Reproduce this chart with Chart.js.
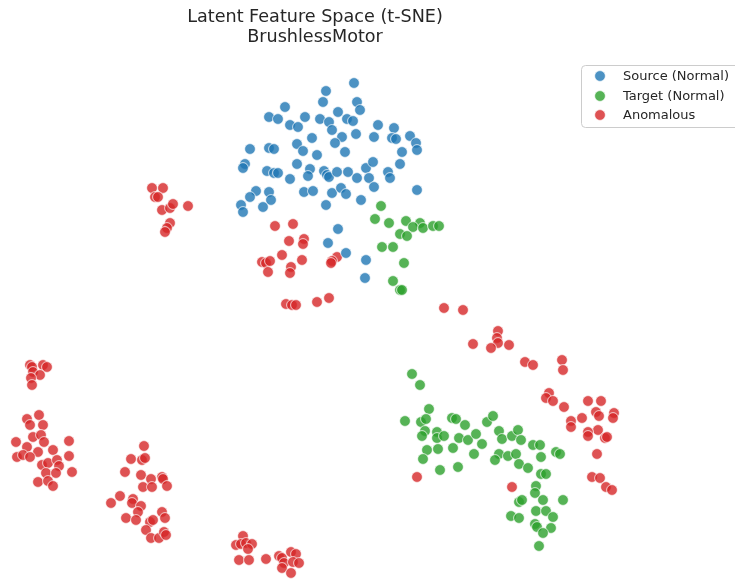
<!DOCTYPE html>
<html>
<head>
<meta charset="utf-8">
<title>Latent Feature Space (t-SNE) – BrushlessMotor</title>
<script src="https://cdn.jsdelivr.net/npm/chart.js@4/dist/chart.umd.min.js"></script>
<style>
  html, body { margin: 0; padding: 0; background: #ffffff; }
  #wrap { width: 735px; height: 580px; }
</style>
</head>
<body>
<div id="wrap"><canvas id="chart" width="735" height="580"></canvas></div>
<script>
// Embedding coordinates (x, y) per group; y grows downward on this plot.
const sourceNormal = [
  [354,83],[326,91],[323,102],[357,102],[360,110],[285,107],[269,117],[278,119],[305,117],[338,112],
  [320,119],[329,122],[347,119],[353,121],[290,125],[298,127],[332,130],[378,125],[356,134],[394,128],
  [374,137],[392,138],[396,139],[410,136],[416,143],[342,137],[335,143],[312,138],[297,144],[250,149],
  [269,148],[274,149],[303,151],[345,152],[402,152],[417,150],[317,155],[245,164],[243,168],[267,171],
  [274,173],[278,173],[297,164],[310,169],[308,176],[290,179],[324,171],[327,175],[329,177],[337,172],
  [348,172],[357,178],[366,168],[373,162],[369,178],[388,172],[390,178],[400,164],[374,187],[417,190],
  [256,191],[250,197],[269,192],[271,200],[241,205],[243,212],[263,207],[304,192],[313,191],[332,193],
  [341,188],[346,194],[326,205],[361,200],[338,229],[328,243],[346,253],[366,260],[365,278]
];

const targetNormal = [
  [381,206],[375,219],[389,223],[406,221],[420,223],[413,227],[423,228],[433,226],[439,226],[400,234],
  [407,236],[382,247],[393,247],[404,263],[393,281],[400,290],[402,290],
  [412,374],[420,385],[405,421],[429,409],[421,422],[426,419],[425,431],[422,436],[437,432],[437,438],
  [444,436],[452,418],[456,419],[465,425],[459,438],[468,440],[476,434],[482,444],[487,422],[493,416],
  [499,431],[502,439],[512,436],[518,430],[521,440],[427,450],[438,449],[453,448],[474,454],[423,459],
  [499,454],[508,456],[516,454],[495,460],[533,445],[540,445],[541,457],[556,452],[560,454],[519,464],
  [528,468],[458,467],[440,470],[541,474],[546,474],[536,486],[535,493],[563,500],[519,502],[522,500],
  [543,500],[536,511],[546,511],[553,517],[511,516],[519,518],[535,524],[537,527],[551,528],[543,533],
  [539,546]
];

const anomalous = [
  [152,188],[163,188],[155,197],[158,197],[162,210],[170,208],[173,204],[188,206],[170,223],[167,228],
  [165,232],
  [275,226],[293,224],[289,241],[304,239],[303,244],[282,255],[302,260],[262,262],[266,263],[270,261],
  [291,267],[290,273],[268,272],[337,257],[332,261],[331,263],[286,304],[292,305],[296,305],[317,302],
  [329,298],
  [444,308],[463,310],[498,331],[497,338],[498,343],[491,348],[509,345],[473,344],[525,362],[533,365],
  [562,360],[563,370],[549,393],[546,398],[553,401],[564,407],
  [588,401],[601,401],[582,418],[571,421],[571,427],[596,412],[599,416],[614,413],[613,418],[598,430],
  [588,432],[588,436],[605,438],[607,437],[597,454],[592,477],[600,478],[606,487],[612,490],
  [417,477],[512,487],
  [30,365],[32,367],[43,365],[47,367],[33,372],[40,375],[31,378],[32,385],
  [27,419],[39,415],[30,425],[43,425],[33,437],[41,435],[44,442],[16,442],[27,447],[38,452],
  [53,450],[69,441],[17,457],[23,455],[30,457],[42,465],[48,463],[57,460],[59,466],[69,456],
  [46,473],[56,473],[72,472],[38,482],[48,481],[53,486],
  [144,446],[131,459],[142,460],[145,458],[125,472],[141,475],[151,479],[162,477],[163,479],[143,487],
  [152,487],[167,486],[120,496],[111,503],[133,499],[132,503],[141,506],[138,512],[126,518],[136,520],
  [150,522],[153,520],[162,512],[165,518],[146,530],[151,538],[159,538],[164,532],[166,535],
  [243,536],[236,545],[241,544],[246,543],[252,544],[248,549],[239,560],[249,560],[266,559],[279,556],
  [282,558],[291,552],[296,554],[284,563],[293,562],[299,563],[282,568],[291,573]
];

const seriesLabels = ['Source (Normal)', 'Target (Normal)', 'Anomalous'];
const titleLines = ['Latent Feature Space (t-SNE)', 'BrushlessMotor'];

const palette = ['rgba(31,119,180,0.8)', 'rgba(44,160,44,0.8)', 'rgba(214,39,40,0.8)'];
const FONT = '"DejaVu Sans", "Liberation Sans", sans-serif';
const MARKER_R = 5.4;

const toPoints = arr => arr.map(([x, y]) => ({ x, y }));

function makeSet(label, arr, color) {
  return {
    label,
    data: toPoints(arr),
    backgroundColor: color,
    borderColor: 'rgba(255,255,255,0.9)',
    borderWidth: 0.8,
    pointRadius: MARKER_R,
    pointHoverRadius: MARKER_R,
    clip: false
  };
}

// Title and legend are painted on the canvas, the legend box running off the right edge.
const decorations = {
  id: 'decorations',
  afterDraw(chart) {
    const ctx = chart.ctx;
    ctx.save();
    ctx.fillStyle = '#262626';
    ctx.textAlign = 'center';
    ctx.textBaseline = 'middle';
    ctx.font = '17.6px ' + FONT;
    ctx.fillText(titleLines[0], 315, 17);
    ctx.fillText(titleLines[1], 315, 37);

    // legend frame
    const bx = 581.5, by = 65.5, bw = 170, bh = 62, r = 4;
    ctx.beginPath();
    ctx.moveTo(bx + r, by);
    ctx.lineTo(bx + bw - r, by);
    ctx.arcTo(bx + bw, by, bx + bw, by + r, r);
    ctx.lineTo(bx + bw, by + bh - r);
    ctx.arcTo(bx + bw, by + bh, bx + bw - r, by + bh, r);
    ctx.lineTo(bx + r, by + bh);
    ctx.arcTo(bx, by + bh, bx, by + bh - r, r);
    ctx.lineTo(bx, by + r);
    ctx.arcTo(bx, by, bx + r, by, r);
    ctx.closePath();
    ctx.fillStyle = 'rgba(255,255,255,0.8)';
    ctx.fill();
    ctx.strokeStyle = '#cccccc';
    ctx.lineWidth = 1;
    ctx.stroke();

    ctx.textAlign = 'left';
    ctx.font = '13px ' + FONT;
    const rows = [76, 96, 115];
    chart.data.datasets.forEach((ds, i) => {
      ctx.beginPath();
      ctx.arc(600, rows[i], MARKER_R, 0, Math.PI * 2);
      ctx.fillStyle = ds.backgroundColor;
      ctx.fill();
      ctx.strokeStyle = 'rgba(255,255,255,0.9)';
      ctx.lineWidth = 0.8;
      ctx.stroke();
      ctx.fillStyle = '#262626';
      ctx.fillText(ds.label, 623, rows[i] + 0.5);
    });
    ctx.restore();
  }
};

new Chart(document.getElementById('chart'), {
  type: 'scatter',
  data: {
    datasets: [
      makeSet(seriesLabels[0], sourceNormal, palette[0]),
      makeSet(seriesLabels[1], targetNormal, palette[1]),
      makeSet(seriesLabels[2], anomalous, palette[2])
    ]
  },
  options: {
    responsive: false,
    animation: false,
    layout: { padding: 0, autoPadding: false },
    scales: {
      x: { type: 'linear', min: 0, max: 735, display: false },
      y: { type: 'linear', min: 0, max: 580, reverse: true, display: false }
    },
    plugins: {
      legend: { display: false },
      title: { display: false },
      tooltip: { enabled: false }
    }
  },
  plugins: [decorations]
});
</script>
</body>
</html>
